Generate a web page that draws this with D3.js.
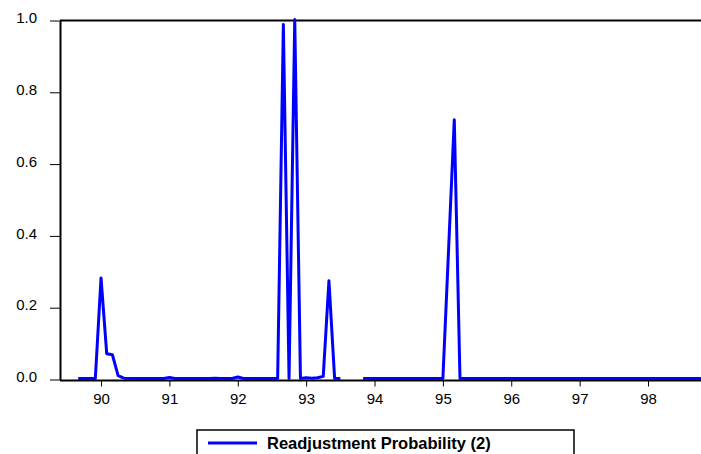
<!DOCTYPE html>
<html>
<head>
<meta charset="utf-8">
<script src="https://cdn.jsdelivr.net/npm/d3@7"></script>
<style>
  body { margin: 0; background: #fff; }
  text { font-family: Arial, "Liberation Sans", sans-serif; }
</style>
</head>
<body>
<svg id="chart"></svg>
<script>
// monthly series, first value = Sep 1989, null = missing months
const startYear = 89;
const startMonth = 8; // zero-based, September
const seriesName = "Readjustment Probability (2)";
const probValues = [
  0, 0, 0, 0,                                  // 89:09 - 89:12
  0.28, 0.069, 0.066, 0.008, 0.001, 0, 0, 0, 0, 0, 0, 0,   // 1990
  0.003, 0, 0, 0, 0, 0, 0, 0, 0.001, 0, 0, 0,  // 1991
  0.004, 0, 0, 0, 0, 0, 0, 0, 0.986, 0, 1.0, 0, // 1992
  0.002, 0.001, 0.002, 0.006, 0.272, 0, 0, null, null, null, 0, 0, // 1993
  0, 0, 0, 0, 0, 0, 0, 0, 0, 0, 0, 0,          // 1994
  0, 0.36, 0.721, 0, 0, 0, 0, 0, 0, 0, 0, 0,   // 1995
  0, 0, 0, 0, 0, 0, 0, 0, 0, 0, 0, 0,          // 1996
  0, 0, 0, 0, 0, 0, 0, 0, 0, 0, 0, 0,          // 1997
  0, 0, 0, 0, 0, 0, 0, 0, 0, 0, 0, 0           // 1998
];
const xTicks = [90, 91, 92, 93, 94, 95, 96, 97, 98];
const yTicks = [0, 0.2, 0.4, 0.6, 0.8, 1.0];

const width = 701, height = 454;
const margin = {top: 20, right: 0, bottom: 74, left: 60};

const data = probValues.map((v, i) => ({
  t: startYear + (startMonth + i) / 12,
  value: v
}));

const svg = d3.select("#chart")
  .attr("width", width)
  .attr("height", height);

const x = d3.scaleLinear()
  .domain([89.4, 98.775])
  .range([margin.left, width - margin.right]);

const y = d3.scaleLinear()
  .domain([0, 1])
  .range([height - margin.bottom - 0.5, margin.top + 0.5]);

svg.append("clipPath").attr("id", "plot-clip")
  .append("rect")
  .attr("x", margin.left).attr("y", margin.top - 2)
  .attr("width", width - margin.left).attr("height", height - margin.bottom - margin.top + 4);

// top frame line
svg.append("line")
  .attr("x1", margin.left).attr("x2", width)
  .attr("y1", y(1)).attr("y2", y(1))
  .attr("stroke", "#000").attr("stroke-width", 2);

// x axis
const xAxis = svg.append("g")
  .attr("transform", `translate(0,${y(0) + 1})`)
  .call(d3.axisBottom(x).tickValues(xTicks).tickFormat(d3.format("d")).tickSize(6).tickPadding(7).tickSizeOuter(0));
xAxis.select(".domain").attr("stroke-width", 2).attr("d", `M${margin.left},0H${width}`);
xAxis.selectAll(".tick text").attr("font-size", 15).attr("fill", "#000").attr("font-family", "Arial, 'Liberation Sans', sans-serif");

// y axis
const yAxis = svg.append("g")
  .attr("transform", `translate(${margin.left},0)`)
  .call(d3.axisLeft(y).tickValues(yTicks).tickFormat(d3.format(".1f")).tickSize(10).tickPadding(13).tickSizeOuter(0));
yAxis.select(".domain").attr("stroke-width", 2);
yAxis.selectAll(".tick text").attr("font-size", 15).attr("fill", "#000").attr("dy", "0.15em").attr("font-family", "Arial, 'Liberation Sans', sans-serif");

// series
const line = d3.line()
  .defined(d => d.value !== null)
  .x(d => x(d.t))
  .y(d => y(d.value) - 1);

svg.append("path")
  .datum(data)
  .attr("clip-path", "url(#plot-clip)")
  .attr("fill", "none")
  .attr("stroke", "#0000ff")
  .attr("stroke-width", 3)
  .attr("stroke-linejoin", "round")
  .attr("d", line);

// legend
const legend = svg.append("g").attr("transform", "translate(197,430)");
legend.append("rect")
  .attr("width", 377).attr("height", 40)
  .attr("fill", "#fff").attr("stroke", "#000").attr("stroke-width", 1.5);
legend.append("line")
  .attr("x1", 11).attr("x2", 60)
  .attr("y1", 13).attr("y2", 13)
  .attr("stroke", "#0000ff").attr("stroke-width", 3);
legend.append("text")
  .attr("x", 70).attr("y", 19)
  .attr("font-size", 16.5).attr("font-weight", "bold")
  .text(seriesName);
</script>
</body>
</html>
